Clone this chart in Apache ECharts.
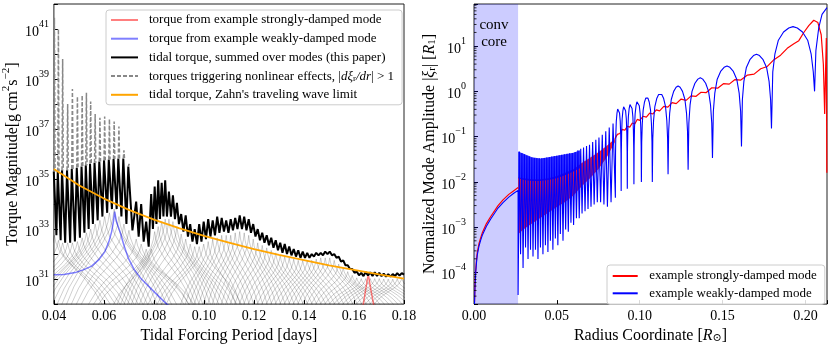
<!DOCTYPE html>
<html>
<head>
<meta charset="utf-8">
<script src="https://cdn.jsdelivr.net/npm/echarts@6/dist/echarts.min.js"></script>
<style>
  html, body { margin: 0; padding: 0; background: #fff; }
  #chart { width: 831px; height: 349px; }
</style>
</head>
<body>
<div id="chart"></div>
<script>
// ---------- left panel: torque vs tidal forcing period (values are log10 of g cm^2 s^-2)
const zahnP   = [0.04, 0.05, 0.06, 0.07, 0.08, 0.09, 0.10, 0.11, 0.12, 0.13, 0.14, 0.15, 0.16, 0.17, 0.18];
const zahnLog = [35.40, 34.75, 34.22, 33.77, 33.38, 33.04, 32.73, 32.46, 32.20, 31.97, 31.76, 31.55, 31.37, 31.19, 31.02];

// resonance spikes at short periods: peak, level where they turn nonlinear, trough after each
const spikeP       = [0.0402, 0.0418, 0.0435, 0.0455, 0.0474, 0.0494, 0.0513, 0.0530, 0.0547, 0.0565, 0.0584, 0.0603, 0.0622, 0.0641, 0.0660, 0.0680, 0.0700];
const spikeTopLog  = [41.45, 41.0, 39.8, 38.0, 38.6, 38.3, 38.35, 38.45, 38.1, 37.6, 37.45, 37.5, 37.4, 37.3, 37.1, 36.15, 35.6];
const spikeCapLog  = [35.3, 35.3, 35.35, 35.35, 35.4, 35.45, 35.5, 35.55, 35.6, 35.65, 35.7, 35.75, 35.78, 35.8, 35.82, 35.82, 35.5];
const troughP      = [0.0410, 0.0427, 0.0445, 0.0465, 0.0484, 0.0504, 0.0522, 0.0539, 0.0556, 0.0575, 0.0594, 0.0613, 0.0632, 0.0651, 0.0670, 0.0690, 0.0714];
const troughLog    = [32.75, 32.55, 32.45, 32.45, 32.5, 32.65, 32.85, 33.0, 33.2, 33.35, 33.5, 33.65, 33.8, 33.8, 33.5, 33.2, 32.95];

// summed torque beyond the spikes (peaks at even index, troughs at odd)
const tailP = [0.0729, 0.0739, 0.0749, 0.0759, 0.0769, 0.0779, 0.0789, 0.0796, 0.0803, 0.0810,
  0.0817, 0.0824, 0.0831, 0.0838, 0.0845, 0.0852, 0.0860, 0.0868, 0.0876, 0.0884,
  0.0892, 0.0900, 0.0909, 0.0918, 0.0927, 0.0936, 0.0945, 0.0954, 0.0963, 0.0972,
  0.0981, 0.0990, 0.0999, 0.1008, 0.1017, 0.1026, 0.1035, 0.1044, 0.1053, 0.1062,
  0.1071, 0.1080, 0.1089, 0.1098, 0.1107, 0.1116, 0.1125, 0.1134, 0.1143, 0.1152,
  0.1161, 0.1170, 0.1179, 0.1188, 0.1197, 0.1206, 0.1215, 0.1224, 0.1233, 0.1242,
  0.1251, 0.1260, 0.1269, 0.1278, 0.1287, 0.1296, 0.1305, 0.1314, 0.1323, 0.1332,
  0.1341, 0.1350, 0.1359, 0.1368, 0.1377, 0.1386, 0.1395, 0.1404, 0.1413, 0.1422,
  0.1431, 0.1440, 0.1449, 0.1458, 0.1467, 0.1476, 0.1485, 0.1494, 0.1503, 0.1512,
  0.1521, 0.1530, 0.1539, 0.1548, 0.1557, 0.1566, 0.1575, 0.1584, 0.1593, 0.1602,
  0.1611, 0.1620, 0.1629, 0.1638, 0.1647, 0.1656, 0.1665, 0.1674, 0.1683, 0.1692,
  0.1701, 0.1710, 0.1719, 0.1728, 0.1737, 0.1746, 0.1755, 0.1764, 0.1773, 0.1782,
  0.1791, 0.1800];
const tailLog = [34.1, 32.7, 34.0, 32.5, 33.3, 32.3, 34.4, 33.0, 34.7, 33.2,
  34.95, 33.4, 34.85, 33.5, 34.95, 33.5, 34.5, 33.5, 34.35, 33.4,
  34.05, 33.2, 33.6, 32.9, 33.55, 32.7, 33.2, 32.5, 33.0, 32.4,
  33.2, 32.5, 33.3, 32.6, 33.4, 32.7, 33.35, 32.75, 33.5, 32.85,
  33.45, 32.9, 33.35, 32.85, 33.4, 32.95, 33.45, 33.0, 33.55, 33.0,
  33.5, 32.95, 33.4, 32.85, 33.2, 32.7, 33.0, 32.55, 32.85, 32.45,
  32.75, 32.35, 32.65, 32.25, 32.55, 32.15, 32.45, 32.05, 32.4, 32.0,
  32.3, 31.95, 32.2, 31.9, 32.15, 31.85, 32.1, 31.85, 32.05, 31.85,
  32.0, 31.9, 32.05, 31.95, 32.05, 31.95, 32.1, 32.0, 32.1, 31.95,
  32.0, 31.85, 31.9, 31.7, 31.75, 31.55, 31.55, 31.4, 31.4, 31.25,
  31.3, 31.15, 31.25, 31.12, 31.28, 31.15, 31.27, 31.12, 31.27, 31.13,
  31.25, 31.12, 31.22, 31.1, 31.2, 31.1, 31.2, 31.12, 31.24, 31.14,
  31.24, 31.18];

const weakP   = [0.0400, 0.0440, 0.0485, 0.0520, 0.0551, 0.0580, 0.0604, 0.0620, 0.0631, 0.0638, 0.0643, 0.0650, 0.0664, 0.0680, 0.0697, 0.0720, 0.0750, 0.0800, 0.0849, 0.0870];
const weakLog = [31.17, 31.18, 31.26, 31.38, 31.52, 31.78, 32.1, 32.5, 32.9, 33.3, 33.7, 33.3, 32.9, 32.35, 31.85, 31.4, 31.0, 30.5, 30.02, 29.85];
const strongP   = [0.1636, 0.1647, 0.1657, 0.1667, 0.1680];
const strongLog = [29.9, 30.6, 31.2, 30.6, 29.9];

// shape of one mode's torque curve (offset in half-widths, drop as share of height above 1e30)
const archU    = [-1.15, -1, -0.85, -0.65, -0.45, -0.25, -0.1, -0.03, 0, 0.03, 0.1, 0.25, 0.45, 0.65, 0.85, 1, 1.15];
const archDrop = [1.25, 1, 0.82, 0.64, 0.5, 0.36, 0.22, 0.1, 0, 0.1, 0.22, 0.36, 0.5, 0.64, 0.82, 1, 1.25];

// ---------- right panel: |xi_r| vs radius
const coreR      = [0.0003, 0.0006, 0.001, 0.0015, 0.002, 0.003, 0.004, 0.005, 0.0075, 0.010, 0.0145, 0.0175, 0.021, 0.024, 0.0266];
const coreStrong = [2.2e-5, 5.5e-5, 1.1e-4, 1.9e-4, 2.8e-4, 4.3e-4, 5.8e-4, 7.5e-4, 1.2e-3, 1.7e-3, 3.0e-3, 4.0e-3, 5.3e-3, 6.4e-3, 7.5e-3];
const coreWeak   = [2.0e-5, 4.8e-5, 9.5e-5, 1.65e-4, 2.45e-4, 3.8e-4, 5.1e-4, 6.6e-4, 1.05e-3, 1.5e-3, 2.65e-3, 3.5e-3, 4.6e-3, 5.6e-3, 6.5e-3];

const redBandR    = [0.0266, 0.030, 0.035, 0.040, 0.045, 0.050, 0.055, 0.060, 0.065, 0.070, 0.075, 0.080, 0.085];
const redBandHigh = [0.0125, 0.012, 0.0115, 0.0115, 0.012, 0.0135, 0.016, 0.019, 0.026, 0.034, 0.045, 0.062, 0.09];
const redBandLow  = [7e-4, 9e-4, 1.2e-3, 1.6e-3, 2.1e-3, 2.8e-3, 3.6e-3, 5.0e-3, 8e-3, 0.012, 0.019, 0.034, 0.075];

const strongR = [0.0850, 0.0865, 0.0880, 0.0895, 0.0910, 0.0925, 0.0940, 0.0955, 0.0970, 0.0985, 0.1000, 0.1020, 0.1040, 0.1060, 0.1080, 0.1100, 0.1120, 0.1145, 0.1170, 0.1195,
  0.1220, 0.1250, 0.1280, 0.1310, 0.1340, 0.1370, 0.1400, 0.1435, 0.1470, 0.1505, 0.1540, 0.1575, 0.1610, 0.1650, 0.1690, 0.1730, 0.1770, 0.1810, 0.1850, 0.1890,
  0.1930, 0.1960, 0.1990, 0.2020, 0.2050, 0.2075, 0.2095, 0.2108, 0.2116, 0.2121, 0.2126, 0.2129];
const strongAmpLog = [-1.05, -0.95, -0.93, -0.84, -0.86, -0.77, -0.79, -0.7, -0.72, -0.62, -0.64, -0.55, -0.57, -0.48, -0.5, -0.41, -0.43, -0.33, -0.35, -0.25,
  -0.27, -0.17, -0.2, -0.1, -0.11, -0.02, -0.03, 0.08, 0.07, 0.17, 0.16, 0.26, 0.25, 0.36, 0.38, 0.5, 0.55, 0.7, 0.8, 0.95,
  1.05, 1.12, 1.3, 1.45, 1.57, 1.52, 1.25, 0.6, -0.5, 0.4, 1.18, -1.8];

const blueBandR    = [0.0266, 0.030, 0.035, 0.040, 0.045, 0.050, 0.055, 0.060, 0.064];
const blueBandHigh = [0.047, 0.042, 0.035, 0.033, 0.035, 0.038, 0.041, 0.044, 0.05];
const blueBandLow  = [0.012, 0.011, 0.0105, 0.0105, 0.011, 0.012, 0.014, 0.017, 0.02];

const weakDipR = [0.0266, 0.0281, 0.0296, 0.0311, 0.0326, 0.0341, 0.0356, 0.0371, 0.0386, 0.0401, 0.0416, 0.0431, 0.0446, 0.0461, 0.0476, 0.0491, 0.0506, 0.0521,
  0.0537, 0.0553, 0.0569, 0.0585, 0.0601, 0.0618, 0.0635, 0.0652, 0.0670, 0.0688, 0.0706, 0.0725, 0.0744, 0.0764, 0.0784, 0.0805, 0.0827];
const weakDipLog = [-4.5, -3.6, -3.9, -3.45, -3.7, -3.5, -3.65, -3.5, -3.7, -3.45, -3.6, -3.4, -3.55, -3.3, -3.5, -3.25, -3.4, -3.15,
  -3.3, -3.05, -3.1, -2.9, -2.95, -2.8, -2.8, -2.7, -2.65, -2.6, -2.55, -2.5, -2.45, -2.45, -2.5, -2.55, -2.45];
const weakPeakR = [0.0274, 0.0289, 0.0304, 0.0319, 0.0334, 0.0349, 0.0364, 0.0379, 0.0394, 0.0409, 0.0424, 0.0439, 0.0454, 0.0469, 0.0484, 0.0499, 0.0514, 0.0529,
  0.0545, 0.0561, 0.0577, 0.0593, 0.0610, 0.0627, 0.0644, 0.0661, 0.0679, 0.0697, 0.0716, 0.0735, 0.0754, 0.0774, 0.0795, 0.0816, 0.0839];
const weakPeakLog = [-1.33, -1.36, -1.39, -1.42, -1.44, -1.46, -1.47, -1.48, -1.48, -1.48, -1.47, -1.46, -1.45, -1.44, -1.43, -1.42, -1.41, -1.40,
  -1.39, -1.38, -1.37, -1.36, -1.34, -1.30, -1.27, -1.24, -1.21, -1.18, -1.12, -1.07, -1.02, -0.96, -0.88, -0.80, -0.71];
// wide outer lobes: nodes, node depth, lobe top
const lobeDipR   = [0.0853, 0.0888, 0.0925, 0.0965, 0.1010, 0.1076, 0.1171, 0.1292, 0.1439, 0.1614, 0.1795, 0.2055];
const lobeDipLog = [-2.35, -2.2, -2.15, -2.05, -2.0, -2.0, -1.83, -1.73, -1.47, -1.22, -0.82, 0.0];
const lobeTopLog = [-0.36, -0.31, -0.26, -0.2, -0.12, -0.04, 0.12, 0.3, 0.56, 0.82, 1.43];
// one lobe's outline: position across the lobe, decades below its top
const lobeFrac = [0.03, 0.08, 0.16, 0.28, 0.4, 0.5, 0.6, 0.72, 0.84, 0.92, 0.97];
const lobeDrop = [1.0, 0.6, 0.3, 0.12, 0.03, 0, 0.03, 0.12, 0.3, 0.6, 1.0];
const edgeR   = [0.2063, 0.2080, 0.2100, 0.2130];
const edgeLog = [0.9, 1.4, 1.7, 1.85];

const minorSubs = [2, 3, 4, 5, 6, 7, 8, 9];
const minorDecades = [-5, -4, -3, -2, -1, 0, 1];

// ---------- building the series
const SERIF = "'Liberation Serif', 'DejaVu Serif', serif";
const E = v => Math.pow(10, v);
const pairs = (xs, ys) => xs.map((x, i) => [x, ys[i]]);
const logPairs = (xs, ls) => xs.map((x, i) => [x, E(ls[i])]);

const L_RED = 'torque from example strongly-damped mode';
const L_BLUE = 'torque from example weakly-damped mode';
const L_BLACK = 'tidal torque, summed over modes (this paper)';
const L_DASH = 'torques triggering nonlinear effects';
const L_ORANGE = "tidal torque, Zahn's traveling wave limit";
const R_RED = 'example strongly-damped mode';
const R_BLUE = 'example weakly-damped mode';

const pw = 0.00025;
const blackData = [];
const dashData = [];
spikeP.forEach((p, i) => {
  const cap = Math.min(spikeCapLog[i], spikeTopLog[i]);
  blackData.push([p - pw, E(cap)], [p + pw, E(cap)]);
  if (spikeTopLog[i] > spikeCapLog[i]) {
    dashData.push([p - pw, E(cap)], [p, E(spikeTopLog[i])], [p + pw, E(cap)], [p, null]);
  }
  blackData.push([troughP[i], E(troughLog[i])]);
});
tailP.forEach((p, i) => blackData.push([p, E(tailLog[i])]));

const greyData = [];
function addMode(p, top) {
  const w = p < 0.078 ? 0.019 : (p < 0.1 ? 0.015 : 0.011);
  archU.forEach((u, k) => greyData.push([p + u * w, E(top - archDrop[k] * (top - 30))]));
  greyData.push([p, null]);
}
spikeP.forEach((p, i) => addMode(p, Math.min(troughLog[i], i > 0 ? troughLog[i - 1] : troughLog[i])));
tailP.forEach((p, i) => {
  if (i % 2 === 0) {
    const a = i > 0 ? tailLog[i - 1] : troughLog[troughLog.length - 1];
    const b = i + 1 < tailLog.length ? tailLog[i + 1] : tailLog[i];
    addMode(p, Math.min(a, b) - 0.1);
  }
});

const weakRightData = pairs(coreR, coreWeak);
weakDipR.forEach((r, i) => {
  weakRightData.push([r, E(weakDipLog[i])], [weakPeakR[i], E(weakPeakLog[i])]);
});
lobeTopLog.forEach((top, i) => {
  const a = lobeDipR[i], b = lobeDipR[i + 1];
  weakRightData.push([a, E(lobeDipLog[i])]);
  lobeFrac.forEach((f, k) => weakRightData.push([a + f * (b - a), E(top - lobeDrop[k])]));
});
weakRightData.push([lobeDipR[lobeDipR.length - 1], E(lobeDipLog[lobeDipLog.length - 1])]);
edgeR.forEach((r, i) => weakRightData.push([r, E(edgeLog[i])]));

const minorTicks = [];
minorDecades.forEach(d => minorSubs.forEach(s => {
  const v = s * E(d);
  if (v > 2e-5 && v < 85) minorTicks.push([0, v]);
}));

function bandItem(rs, hi, lo, color) {
  return function (params, api) {
    const pts = [];
    rs.forEach((r, i) => pts.push(api.coord([r, hi[i]])));
    for (let i = rs.length - 1; i >= 0; i--) pts.push(api.coord([rs[i], lo[i]]));
    return { type: 'polygon', shape: { points: pts }, style: { fill: color } };
  };
}

const txt = { fontFamily: SERIF, color: '#000' };
const supRich = {
  b: { ...txt, fontSize: 14, lineHeight: 20, verticalAlign: 'bottom' },
  sup: { ...txt, fontSize: 10, lineHeight: 8, verticalAlign: 'top' }
};
function powLabel(oddOnly) {
  return v => {
    const l = Math.log10(v);
    const e = Math.round(l);
    if (Math.abs(l - e) > 1e-6) return '';
    if (oddOnly && Math.abs(e) % 2 === 0) return '';
    return '{b|10}{sup|' + (e < 0 ? '\u2212' + (-e) : e) + '}';
  };
}
const nameRich = {
  n: { ...txt, fontSize: 16, lineHeight: 20, verticalAlign: 'bottom' },
  i: { ...txt, fontSize: 16, lineHeight: 20, verticalAlign: 'bottom', fontStyle: 'italic' },
  sup: { ...txt, fontSize: 11, lineHeight: 8, verticalAlign: 'top' },
  sub: { ...txt, fontSize: 11, lineHeight: 8, verticalAlign: 'bottom' }
};
const legendRich = {
  n: { ...txt, fontSize: 13, lineHeight: 14 },
  i: { ...txt, fontSize: 13, lineHeight: 14, fontStyle: 'italic' },
  sub: { ...txt, fontSize: 9, lineHeight: 6, verticalAlign: 'bottom' }
};
const tick = { inside: true, length: 4, lineStyle: { color: '#000', width: 1 } };

const option = {
  animation: false,
  backgroundColor: '#fff',
  grid: [
    { left: 52, top: 4, width: 352, height: 308, show: true, borderColor: '#222', borderWidth: 1, backgroundColor: 'transparent' },
    { left: 474, top: 4, width: 353, height: 308, show: true, borderColor: '#222', borderWidth: 1, backgroundColor: 'transparent' }
  ],
  legend: [
    {
      data: [L_RED, L_BLUE, L_BLACK, L_DASH, L_ORANGE],
      orient: 'vertical', left: 106, top: 10, itemWidth: 27, itemHeight: 14, itemGap: 4.7,
      padding: [3, 8, 3, 4], selectedMode: false, itemStyle: { opacity: 0 },
      backgroundColor: 'rgba(255,255,255,0.85)', borderColor: '#cccccc', borderWidth: 1, borderRadius: 3,
      textStyle: { ...txt, fontSize: 13, lineHeight: 14, padding: [0, 0, 0, 6], rich: legendRich },
      formatter: name => name === L_DASH
        ? '{n|torques triggering nonlinear effects, |}{i|d\u03be}{sub|r}{i|/dr}{n|| > 1}'
        : name
    },
    {
      data: [R_RED, R_BLUE],
      orient: 'vertical', left: 607, top: 265, itemWidth: 25, itemHeight: 14, itemGap: 3.3,
      padding: [4, 8, 4, 4.7], selectedMode: false, itemStyle: { opacity: 0 },
      backgroundColor: 'rgba(255,255,255,0.85)', borderColor: '#cccccc', borderWidth: 1, borderRadius: 3,
      textStyle: { ...txt, fontSize: 13, lineHeight: 14, padding: [0, 0, 0, 6.6] }
    }
  ],
  xAxis: [
    {
      type: 'value', gridIndex: 0, min: 0.04, max: 0.18, interval: 0.02,
      axisLine: { show: false }, axisTick: tick, splitLine: { show: false },
      axisLabel: { ...txt, fontSize: 14, margin: 5, formatter: v => v.toFixed(2) },
      name: 'Tidal Forcing Period [days]', nameLocation: 'middle', nameGap: 18,
      nameTextStyle: { ...txt, fontSize: 16, verticalAlign: 'top' }
    },
    {
      type: 'value', gridIndex: 1, min: 0, max: 0.213, interval: 0.05,
      axisLine: { show: false }, axisTick: tick, splitLine: { show: false },
      axisLabel: {
        ...txt, fontSize: 14, margin: 5,
        formatter: v => Math.abs(v / 0.05 - Math.round(v / 0.05)) > 1e-6 ? '' : v.toFixed(2)
      },
      name: '{n|Radius Coordinate [}{i|R}{sub|\u2299}{n|]}', nameLocation: 'middle', nameGap: 18,
      nameTextStyle: { ...txt, fontSize: 16, verticalAlign: 'top', rich: nameRich }
    }
  ],
  yAxis: [
    {
      type: 'log', logBase: 10, gridIndex: 0, min: 1e30, max: 1e42, interval: 1,
      axisLine: { show: false }, axisTick: tick, splitLine: { show: false },
      axisLabel: { ...txt, fontSize: 14, margin: 5, formatter: powLabel(true), rich: supRich },
      name: '{n|Torque Magnitude[g\u2009cm}{sup|2}{n|s}{sup|\u22122}{n|]}', nameLocation: 'middle', nameRotate: 90, nameGap: 31,
      nameTextStyle: { ...txt, fontSize: 16, rich: nameRich }
    },
    {
      type: 'log', logBase: 10, gridIndex: 1, min: 2e-5, max: 85,
      axisLine: { show: false }, axisTick: tick, splitLine: { show: false },
      axisLabel: { ...txt, fontSize: 14, margin: 8, formatter: powLabel(false), rich: supRich },
      name: '{n|Normalized Mode Amplitude |}{i|\u03be}{sub|r}{n|| [}{i|R}{sub|1}{n|]}', nameLocation: 'middle', nameRotate: 90, nameGap: 28,
      nameTextStyle: { ...txt, fontSize: 16, rich: nameRich }
    }
  ],
  series: [
    // left panel
    { name: 'modes', type: 'line', xAxisIndex: 0, yAxisIndex: 0, data: greyData, showSymbol: false, symbol: 'none', silent: true, z: 2,
      lineStyle: { color: 'rgba(0,0,0,0.28)', width: 0.7 } },
    { name: L_RED, type: 'line', xAxisIndex: 0, yAxisIndex: 0, data: logPairs(strongP, strongLog), symbol: 'none', z: 3,
      lineStyle: { color: 'rgba(255,0,0,0.5)', width: 1.5 }, itemStyle: { color: 'rgba(255,0,0,0.5)' } },
    { name: L_BLUE, type: 'line', xAxisIndex: 0, yAxisIndex: 0, data: logPairs(weakP, weakLog), symbol: 'none', z: 3,
      lineStyle: { color: 'rgba(0,0,255,0.5)', width: 1.5 }, itemStyle: { color: 'rgba(0,0,255,0.5)' } },
    { name: L_BLACK, type: 'line', xAxisIndex: 0, yAxisIndex: 0, data: blackData, symbol: 'none', z: 4,
      lineStyle: { color: '#000', width: 2 }, itemStyle: { color: '#000' } },
    { name: L_DASH, type: 'line', xAxisIndex: 0, yAxisIndex: 0, data: dashData, symbol: 'none', z: 5,
      lineStyle: { color: '#888', width: 1.5, type: [4, 2] }, itemStyle: { color: '#888' } },
    { name: L_ORANGE, type: 'line', xAxisIndex: 0, yAxisIndex: 0, data: logPairs(zahnP, zahnLog), symbol: 'none', z: 6,
      lineStyle: { color: '#ffa500', width: 1.8 }, itemStyle: { color: '#ffa500' } },

    // right panel
    { name: 'core', type: 'line', xAxisIndex: 1, yAxisIndex: 1, data: [[0.01, 1e-3]], symbol: 'none', silent: true, z: 1,
      lineStyle: { opacity: 0 },
      markArea: {
        silent: true, itemStyle: { color: 'rgba(0,0,255,0.2)' },
        label: { show: true, position: 'insideTop', distance: 13, offset: [-2, 0], formatter: 'conv\ncore', ...txt, fontSize: 15, lineHeight: 17 },
        data: [[{ xAxis: 0 }, { xAxis: 0.0266 }]]
      } },
    { name: R_RED, type: 'line', xAxisIndex: 1, yAxisIndex: 1, data: pairs(coreR, coreStrong), symbol: 'none', z: 3,
      lineStyle: { color: '#ff0000', width: 1.2 }, itemStyle: { color: '#ff0000' } },
    { name: 'strong band', type: 'custom', xAxisIndex: 1, yAxisIndex: 1, data: [[redBandR[0], redBandHigh[0]]], silent: true, z: 2,
      renderItem: bandItem(redBandR, redBandHigh, redBandLow, 'rgba(255,0,0,0.85)') },
    { name: R_RED, type: 'line', xAxisIndex: 1, yAxisIndex: 1, data: logPairs(strongR, strongAmpLog), symbol: 'none', z: 3,
      lineStyle: { color: '#ff0000', width: 1.2 } },
    { name: 'weak band', type: 'custom', xAxisIndex: 1, yAxisIndex: 1, data: [[blueBandR[0], blueBandHigh[0]]], silent: true, z: 4,
      renderItem: bandItem(blueBandR, blueBandHigh, blueBandLow, 'rgba(0,0,255,0.8)') },
    { name: R_BLUE, type: 'line', xAxisIndex: 1, yAxisIndex: 1, data: weakRightData, symbol: 'none', z: 5,
      lineStyle: { color: '#0000ff', width: 1.1 }, itemStyle: { color: '#0000ff' } },
    { name: 'minor ticks', type: 'custom', xAxisIndex: 1, yAxisIndex: 1, data: minorTicks, silent: true, z: 6,
      renderItem: (params, api) => {
        const c = api.coord([api.value(0), api.value(1)]);
        return { type: 'line', shape: { x1: c[0], y1: c[1], x2: c[0] + 2.5, y2: c[1] }, style: { stroke: '#000', lineWidth: 0.8 } };
      } }
  ]
};

const chart = echarts.init(document.getElementById('chart'));
chart.setOption(option);
</script>
</body>
</html>
